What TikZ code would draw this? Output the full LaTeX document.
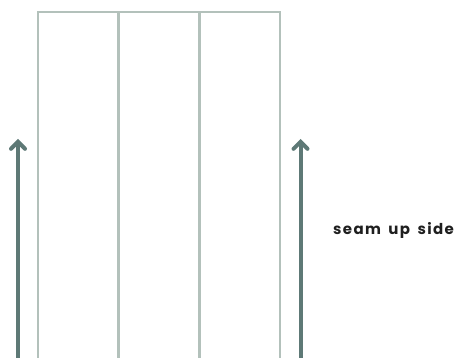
\documentclass[tikz,border=0pt]{standalone}
\usepackage{fontspec}
\setmainfont{Poppins}
\newfontfamily\lblfont[LetterSpace=9]{Poppins}
\usetikzlibrary{arrows.meta}
\definecolor{seamgrey}{HTML}{B3C1BB}
\definecolor{arrowgrey}{HTML}{5E7976}
\tikzset{
  seam/.style={draw=seamgrey, line width=3pt},
  edge/.style={draw=seamgrey, line width=2.4pt},
  uparrow/.style={draw=arrowgrey, line width=4pt, -{Straight Barb[length=7pt,width=14pt,line cap=round]}},
  lbl/.style={font=\lblfont\fontsize{15}{17}\selectfont\bfseries, text=black!88, inner sep=0pt}
}
\begin{document}
\begin{tikzpicture}[x=1pt,y=-1pt]
\useasboundingbox (0,0) rectangle (457,358);
\coordinate (tl) at (38,12);
\coordinate (tr) at (280,12);
\coordinate (bl) at (38,360);
\coordinate (br) at (280,360);
\coordinate (d1t) at (118,12);
\coordinate (d1b) at (118,360);
\coordinate (d2t) at (199.5,12);
\coordinate (d2b) at (199.5,360);
\draw[edge] (bl) -- (tl) -- (tr) -- (br);
\draw[seam] (d1t) -- (d1b);
\draw[seam] (d2t) -- (d2b);
\coordinate (la0) at (18,360);
\coordinate (la1) at (18,139);
\coordinate (ra0) at (300.5,360);
\coordinate (ra1) at (300.5,139);
\draw[uparrow] (la0) -- (la1);
\draw[uparrow] (ra0) -- (ra1);
\node[lbl, anchor=base west] (txt) at (333,234) {seam\hspace{3pt} up\hspace{3pt} side};
\end{tikzpicture}
\end{document}
